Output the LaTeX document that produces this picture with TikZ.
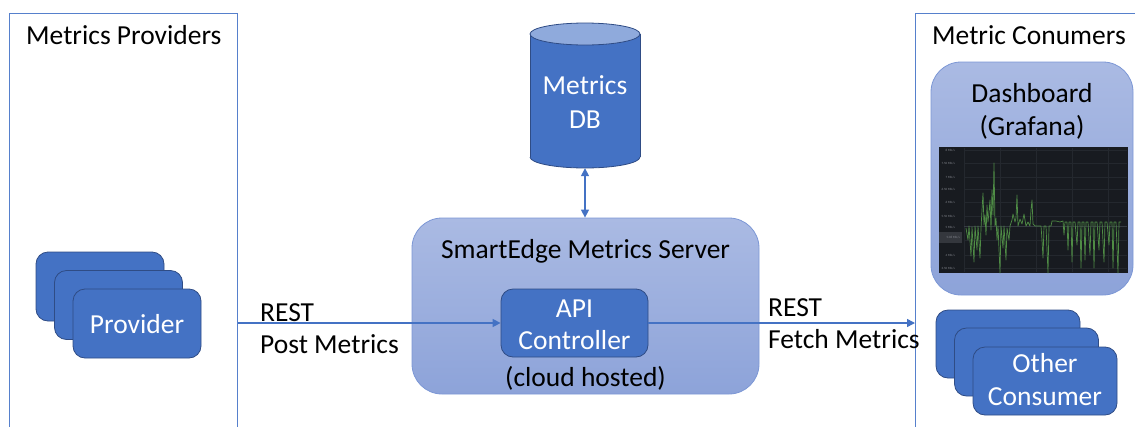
\documentclass[tikz,border=0pt]{standalone}
\usepackage{fontspec}
\setmainfont{Carlito}
\usetikzlibrary{arrows.meta}

\definecolor{boxblue}{HTML}{4472C4}
\definecolor{boxedge}{HTML}{2F4C85}
\definecolor{paleTop}{HTML}{AABAE3}
\definecolor{paleBot}{HTML}{8DA3D9}
\definecolor{paleEdge}{HTML}{7C97D5}
\definecolor{dbTop}{HTML}{8FAADC}
\definecolor{lineblue}{HTML}{4472C4}
\definecolor{panelblue}{HTML}{5680CC}
\definecolor{chartbg}{HTML}{181B20}
\definecolor{chartgrid}{HTML}{24282E}
\definecolor{chartbase}{HTML}{363B43}
\definecolor{chartline}{HTML}{4F8C45}
\definecolor{ticktext}{HTML}{80838A}
\definecolor{tipbox}{HTML}{34373D}

\tikzset{
  card/.style={draw=boxedge, line width=0.8pt, fill=boxblue, rounded corners=12pt, inner sep=0pt},
  pale/.style={draw=paleEdge, line width=0.8pt, top color=paleTop, bottom color=paleBot, rounded corners=30pt, inner sep=0pt},
  panel/.style={draw=panelblue, line width=1.1pt, inner sep=0pt},
  lbl/.style={font=\fontsize{27.5}{32}\selectfont, inner sep=0pt, anchor=base},
  wlbl/.style={lbl, text=white},
  flow/.style={draw=lineblue, line width=1.5pt, -{Triangle[width=8pt,length=8pt]}},
  bothflow/.style={draw=lineblue, line width=1.5pt, {Triangle[width=8pt,length=8pt]}-{Triangle[width=8pt,length=8pt]}},
  tick/.style={font=\fontsize{3.2}{3.2}\selectfont, text=ticktext, inner sep=0pt, anchor=east},
}

\begin{document}
\begin{tikzpicture}[x=1pt,y=-1pt]
\useasboundingbox (0,0) rectangle (1135,426);
\clip (0,0) rectangle (1135,426);

% --- side panels (open at the bottom edge) ---
\node[panel, minimum width=228, minimum height=440, anchor=north west] (provpanel) at (9,13) {};
\node[panel, minimum width=240, minimum height=440, anchor=north west] (conspanel) at (915,13) {};
\node[lbl, anchor=base west] (provtitle) at (26,44) {Metrics Providers};
\node[lbl, anchor=base west] (constitle) at (932,44) {Metric Conumers};

% --- provider stack ---
\node[card, minimum width=128, minimum height=69] (p1) at (100,286.5) {};
\node[card, minimum width=128, minimum height=69] (p2) at (118.5,305) {};
\node[card, minimum width=128, minimum height=69] (p3) at (137,323.5) {};
\node[wlbl] (provtext) at (137,333) {Provider};

% --- metrics database cylinder ---
\fill[boxblue] (530,34) rectangle (640,157);
\fill[boxblue] (585,157) ellipse[x radius=55, y radius=11];
\begin{scope}
  \clip (520,157) rectangle (650,180);
  \draw[boxedge, line width=0.8pt] (585,157) ellipse[x radius=55, y radius=11];
\end{scope}
\draw[boxedge, line width=0.8pt] (530,34) -- (530,157) (640,34) -- (640,157);
\filldraw[fill=dbTop, draw=boxedge, line width=0.8pt] (585,34) ellipse[x radius=55, y radius=11];
\node[inner sep=0pt, minimum width=110, minimum height=145] (db) at (585,95.5) {};
\node[wlbl] (dbtext1) at (585,94) {Metrics};
\node[wlbl] (dbtext2) at (585,128) {DB};

% --- metrics server ---
\node[pale, minimum width=347, minimum height=176] (server) at (585.5,306) {};
\node[lbl] (srvtitle) at (585.5,258) {SmartEdge Metrics Server};
\node[card, minimum width=147, minimum height=68] (api) at (574.5,323) {};
\node[wlbl] (apitext1) at (574.5,317) {API};
\node[wlbl] (apitext2) at (574.5,349) {Controller};
\node[lbl] (cloud) at (585.5,386) {(cloud hosted)};

% --- connectors ---
\draw[bothflow] (db.south) -- (db.south |- server.north);
\draw[flow] (api.west -| provpanel.east) -- (api.west);
\draw[flow] (api.east) -- (api.east -| conspanel.west);
\node[lbl, anchor=base west] (postrest) at (260,321) {REST};
\node[lbl, anchor=base west] (postname) at (260,353) {Post Metrics};
\node[lbl, anchor=base west] (fetchrest) at (768,316) {REST};
\node[lbl, anchor=base west] (fetchname) at (768,348) {Fetch Metrics};

% --- dashboard with throughput chart ---
\node[pale, minimum width=202, minimum height=233] (dash) at (1032,178.5) {};
\node[lbl] (dashtext1) at (1032,102) {Dashboard};
\node[lbl] (dashtext2) at (1032,135) {(Grafana)};
\fill[chartbg] (939,147) rectangle (1128,273);
\foreach \gy in {150,163,177,189,202,216,240,255,268}
  \draw[chartgrid, line width=0.4pt] (964,\gy) -- (1127,\gy);
\foreach \gx in {964,1000,1036,1072,1108}
  \draw[chartgrid, line width=0.4pt] (\gx,148) -- (\gx,272);
\draw[chartbase, line width=0.5pt] (964,226) -- (1127,226);
\fill[tipbox] (939,232) rectangle (962,243);
\node[tick] (t8)  at (955,150) {8 Mb/s};
\node[tick] (t75) at (955,163) {7.50 Mb/s};
\node[tick] (t7)  at (955,177) {7 Mb/s};
\node[tick] (t65) at (955,189) {6.50 Mb/s};
\node[tick] (t6)  at (955,202) {6 Mb/s};
\node[tick] (t55) at (955,216) {5.50 Mb/s};
\node[tick] (t5)  at (955,227) {5 Mb/s};
\node[tick] (t508) at (960,237.5) {5.08 Mb/s};
\node[tick] (t4)  at (955,255) {4 Mb/s};
\node[tick] (t35) at (955,268) {3.50 Mb/s};
\draw[chartline, line width=0.7pt, line join=round] plot coordinates {
 (966,228) (968,240) (969,226) (971,256) (972,227) (974,262) (975,226) (977,250)
 (978,226) (980,258) (981,228) (982,210) (983,193) (984,225) (985,215) (986,235)
 (987,205) (988,222) (989,212) (990,200) (991,230) (992,190) (993,215) (994,163)
 (995,226) (996,218) (997,240) (998,226) (1000,273) (1001,226) (1003,248) (1004,226)
 (1006,260) (1007,228) (1009,240) (1010,226) (1012,220) (1013,214) (1015,222) (1016,218)
 (1017,195) (1018,226) (1020,219) (1022,224) (1024,214) (1026,226) (1028,222) (1030,226)
 (1031,210) (1032,200) (1033,224) (1035,226) (1037,226) (1039,226) (1041,226) (1042,240)
 (1043,258) (1044,226) (1046,226) (1048,273) (1049,226) (1051,226) (1052,221) (1056,221)
 (1060,222) (1063,221) (1064,235) (1065,222) (1067,222) (1068,250) (1069,222) (1071,222)
 (1072,262) (1073,222) (1075,222) (1077,245) (1078,222) (1080,222) (1081,268) (1082,222)
 (1084,222) (1085,260) (1086,222) (1088,222) (1090,255) (1091,222) (1093,222) (1094,268)
 (1095,222) (1097,222) (1099,250) (1100,222) (1102,222) (1104,262) (1105,222) (1107,222)
 (1109,245) (1110,222) (1112,222) (1113,268) (1114,222) (1116,222) (1118,273) (1119,222)
 (1121,222)};

% --- other consumer stack ---
\node[card, minimum width=144, minimum height=68] (c1) at (1008,344) {};
\node[card, minimum width=144, minimum height=68] (c2) at (1026.5,362) {};
\node[card, minimum width=144, minimum height=68] (c3) at (1045,381) {};
\node[wlbl] (otext1) at (1045,372) {Other};
\node[wlbl] (otext2) at (1045,405) {Consumer};
\end{tikzpicture}
\end{document}
